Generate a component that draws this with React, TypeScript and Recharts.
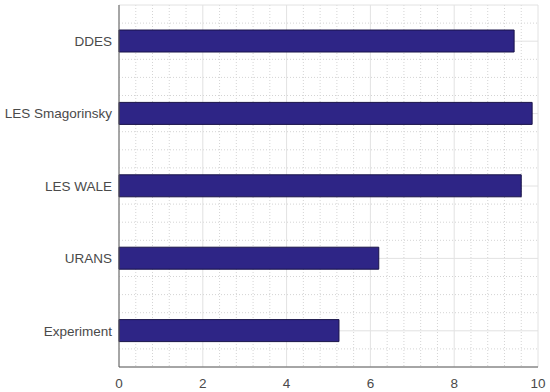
import React from 'react'
import { BarChart, Bar, XAxis, YAxis, CartesianGrid } from 'recharts'

const categories = ['DDES', 'LES Smagorinsky', 'LES WALE', 'URANS', 'Experiment']
const values = [9.43, 9.86, 9.6, 6.2, 5.25]
const xTicks = [0, 2, 4, 6, 8, 10]
const yTicks = [1, 2, 3, 4, 5]
const xDomain: [number, number] = [0, 10]
const yDomain: [number, number] = [0.5, 5.5]

// category i sits at position i + 1 (axis runs top-down, so DDES is on top)
const data = categories.map((name, i) => ({ name, pos: i + 1, value: values[i] }))

const minorX: number[] = []
for (let v = 0.4; v < 10; v += 0.4) {
  if (Math.abs(v / 2 - Math.round(v / 2)) > 0.01) minorX.push(Number(v.toFixed(2)))
}
const minorY: number[] = []
for (let v = 0.75; v < 5.5; v += 0.25) {
  if (Math.abs(v - Math.round(v)) > 0.01) minorY.push(v)
}

const labelStyle = { fontFamily: 'Liberation Sans, Arial, sans-serif', fontSize: 13.5, fill: '#4a4a4a' }
const boxColor = '#5a5a5a'

// minor grid: map values onto the plot area the same way the linear axes do
const minorVertical = ({ xAxis, offset }: any) => {
  if (xAxis && typeof xAxis.scale === 'function') return minorX.map((v) => xAxis.scale(v))
  return minorX.map((v) => offset.left + ((v - xDomain[0]) / (xDomain[1] - xDomain[0])) * offset.width)
}
const minorHorizontal = ({ yAxis, offset }: any) => {
  if (yAxis && typeof yAxis.scale === 'function') return minorY.map((v) => yAxis.scale(v))
  return minorY.map((v) => offset.top + ((v - yDomain[0]) / (yDomain[1] - yDomain[0])) * offset.height)
}

const App: React.FC = () => {
  return (
    <div style={{ position: 'absolute', left: 0, top: 0 }}>
      <BarChart
        width={550}
        height={392}
        data={data}
        layout="vertical"
        margin={{ top: 5, right: 12, bottom: 0, left: 0 }}
      >
        <CartesianGrid
          stroke="#d4d4d4"
          strokeDasharray="1 2"
          verticalCoordinatesGenerator={minorVertical}
          horizontalCoordinatesGenerator={minorHorizontal}
        />
        <CartesianGrid stroke="#e2e2e2" />
        <XAxis
          type="number"
          domain={xDomain}
          ticks={xTicks}
          height={25}
          tickSize={0}
          tickMargin={11}
          tickLine={false}
          axisLine={{ stroke: boxColor }}
          tick={labelStyle}
        />
        <XAxis
          xAxisId="top"
          orientation="top"
          type="number"
          domain={xDomain}
          ticks={xTicks}
          height={0}
          tick={false}
          tickLine={false}
          axisLine={{ stroke: boxColor }}
        />
        <YAxis
          type="number"
          dataKey="pos"
          domain={yDomain}
          ticks={yTicks}
          width={119}
          tickSize={0}
          tickMargin={7}
          tickLine={false}
          axisLine={{ stroke: boxColor }}
          tick={labelStyle}
          tickFormatter={(v: number) => categories[v - 1]}
        />
        <YAxis
          yAxisId="right"
          orientation="right"
          type="number"
          domain={yDomain}
          width={0}
          tick={false}
          tickLine={false}
          axisLine={{ stroke: boxColor }}
        />
        <Bar dataKey="value" barSize={22} fill="#2e2586" stroke="#191348" strokeWidth={1} isAnimationActive={false} />
      </BarChart>
    </div>
  )
}

export default App
